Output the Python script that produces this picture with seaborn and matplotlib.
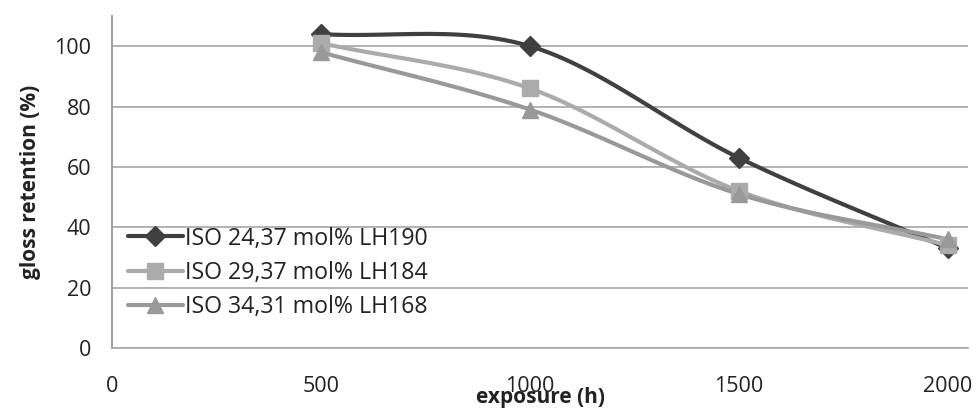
import numpy as np
import pandas as pd
import matplotlib
matplotlib.use("Agg")
import matplotlib.pyplot as plt
import seaborn as sns

exposure = [500, 1000, 1500, 2000]
series_names = ["ISO 24,37 mol% LH190", "ISO 29,37 mol% LH184", "ISO 34,31 mol% LH168"]
s1 = [104, 100, 63, 33]
s2 = [101, 86, 52, 34]
s3 = [98, 79, 51, 36]
colors = ["#404040", "#ababab", "#999999"]
markers = ["D", "s", "^"]
msizes = [10, 11, 12]

sns.set_theme(style="white")
plt.rcParams['font.family'] = ['Open Sans', 'DejaVu Sans']

fig = plt.figure(figsize=(9.76, 4.08), dpi=100)
ax = fig.add_axes([112/976, (408-348)/408, (968-112)/976, (348-16)/408])


def smooth(xs, ys, n=40):
    xs = np.asarray(xs, float); ys = np.asarray(ys, float)
    px = np.concatenate([[2*xs[0]-xs[1]], xs, [2*xs[-1]-xs[-2]]])
    py = np.concatenate([[2*ys[0]-ys[1]], ys, [2*ys[-1]-ys[-2]]])
    ox, oy = [], []
    for i in range(1, len(px)-2):
        t = np.linspace(0, 1, n)
        for arr, out in ((px, ox), (py, oy)):
            p0, p1, p2, p3 = arr[i-1], arr[i], arr[i+1], arr[i+2]
            out.extend(0.5*((2*p1) + (-p0+p2)*t + (2*p0-5*p1+4*p2-p3)*t**2 + (-p0+3*p1-3*p2+p3)*t**3))
    return np.array(ox), np.array(oy)

for name, vals, c, m, ms in zip(series_names, [s1, s2, s3], colors, markers, msizes):
    cx, cy = smooth(exposure, vals)
    sns.lineplot(x=cx, y=cy, ax=ax, color=c, lw=3.0, sort=False, zorder=3)
    ax.plot(exposure, vals, linestyle="none", marker=m, markersize=ms, color=c, zorder=4)
    ax.plot([], [], color=c, lw=3.0, marker=m, markersize=ms, label=name)

ax.set_xlim(0, 2048)
ax.set_ylim(0, 110)
ax.set_xticks([0, 500, 1000, 1500, 2000])
ax.set_yticks([0, 20, 40, 60, 80, 100])
ax.yaxis.grid(True, color="#a6a6a6", lw=1.2)
ax.set_axisbelow(True)
for s in ["top", "right"]:
    ax.spines[s].set_visible(False)
ax.spines["left"].set_color("#999999")
ax.spines["left"].set_linewidth(1.3)
ax.spines["bottom"].set_color("#a6a6a6")
ax.spines["bottom"].set_linewidth(1.2)
ax.tick_params(axis="both", colors="#999999", labelcolor="#222222", labelsize=15.5, width=1.2)
ax.tick_params(axis="y", direction="inout", length=11.5, pad=9)
ax.tick_params(axis="x", direction="out", length=6, pad=14)

ax.set_xlabel("exposure (h)", fontsize=15, fontweight="bold", color="#222222", labelpad=-7)
ax.set_ylabel("gloss retention (%)", fontsize=15, fontweight="bold", color="#222222", labelpad=10)

leg = ax.legend(loc="lower left", bbox_to_anchor=(0.0, 0.037), frameon=False, fontsize=16.7,
                handlelength=2.35, handletextpad=0.1, labelspacing=0.45, borderaxespad=0.3)
for t in leg.get_texts():
    t.set_color("#222222")

fig.savefig("out.png", dpi=100)
